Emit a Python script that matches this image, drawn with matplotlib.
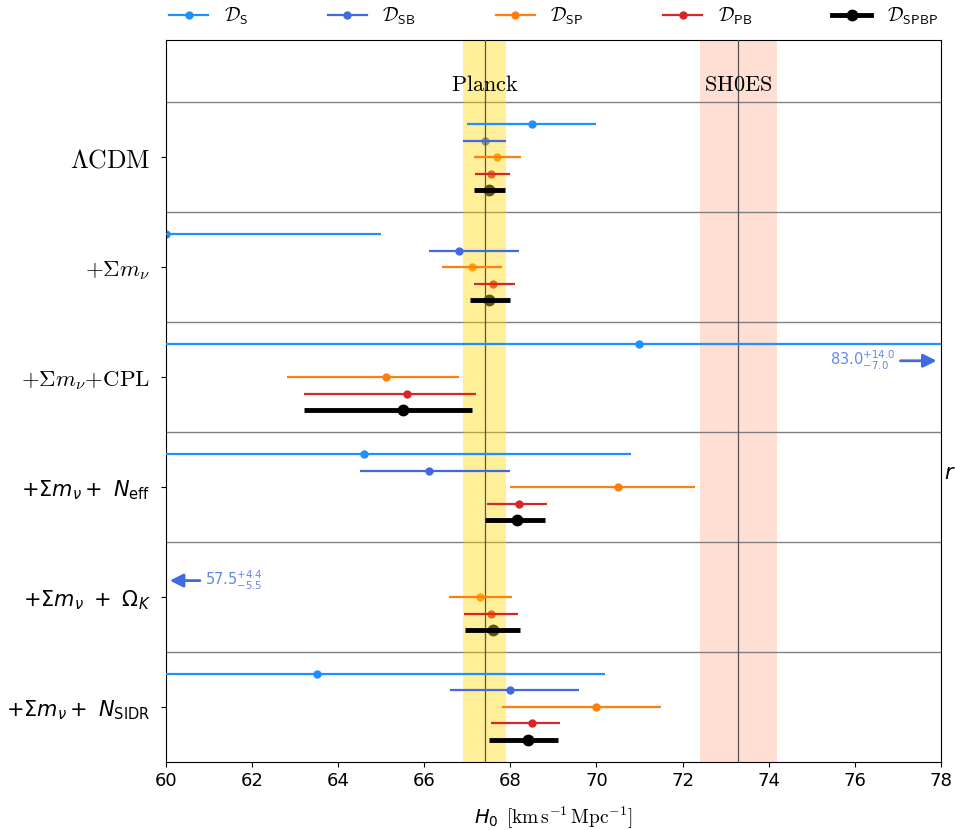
#%%
import matplotlib
matplotlib.use("Agg")
import matplotlib.pyplot as plt
from matplotlib.lines import Line2D
from matplotlib.offsetbox import TextArea, HPacker, AnnotationBbox

plt.rcParams["mathtext.fontset"] = "cm"
plt.rcParams["axes.unicode_minus"] = True

# %% data (H0 central value, lower err, upper err)
groups = [r"$\Lambda\mathrm{CDM}$", r"$+\Sigma m_\nu$", r"$+\Sigma m_\nu\mathrm{+CPL}$",
          r"$+\Sigma m_\nu+\ N_{\rm eff}$", r"$+\Sigma m_\nu\ +\ \Omega_K$",
          r"$+\Sigma m_\nu+\ N_{\rm SIDR}$"]
group_font = ["cm", "cm", "cm", "dejavusans", "dejavusans", "dejavusans"]
group_size = [18.5, 16.5, 16.5, 15, 15, 15]

names = [r"$\mathcal{D}_\mathsf{S}$", r"$\mathcal{D}_\mathsf{SB}$", r"$\mathcal{D}_\mathsf{SP}$",
         r"$\mathcal{D}_\mathsf{PB}$", r"$\mathcal{D}_\mathsf{SPBP}$"]

h0_S = [68.5, 60.0, 71.0, 64.6, None, 63.5]
lo_S = [1.5, 5.0, 12.0, 5.0, None, 5.0]
hi_S = [1.5, 5.0, 12.0, 6.2, None, 6.7]

h0_SB = [67.4, 66.8, 83.0, 66.1, 57.5, 68.0]
lo_SB = [0.5, 0.7, 7.0, 1.6, 5.5, 1.4]
hi_SB = [0.5, 1.4, 14.0, 1.9, 4.4, 1.6]

h0_SP = [67.7, 67.1, 65.1, 70.5, 67.3, 70.0]
lo_SP = [0.55, 0.7, 2.3, 2.5, 0.73, 2.2]
hi_SP = [0.55, 0.7, 1.7, 1.8, 0.73, 1.5]

h0_PB = [67.55, 67.6, 65.6, 68.2, 67.55, 68.5]
lo_PB = [0.37, 0.45, 2.4, 0.75, 0.62, 0.95]
hi_PB = [0.45, 0.5, 1.6, 0.65, 0.63, 0.65]

h0_SPBP = [67.5, 67.5, 65.5, 68.15, 67.6, 68.4]
lo_SPBP = [0.35, 0.43, 2.3, 0.75, 0.65, 0.9]
hi_SPBP = [0.38, 0.5, 1.6, 0.65, 0.62, 0.7]

planck = (67.4, 0.5)
shoes = (73.3, 0.9)

# %%
series = [(h0_S, lo_S, hi_S), (h0_SB, lo_SB, hi_SB), (h0_SP, lo_SP, hi_SP),
          (h0_PB, lo_PB, hi_PB), (h0_SPBP, lo_SPBP, hi_SPBP)]
colors = ["#1E90FF", "#4169E1", "#FF7F0E", "#D62728", "black"]
xmin, xmax = 60, 78

fig = plt.figure(figsize=(9.55, 8.3), dpi=100)
ax = fig.add_axes([0.174, 0.082, 0.811, 0.870])

handles = []
for k, (vals, lo, hi) in enumerate(series):
    thick = k == 4
    ms = 7.5 if thick else 5
    lw = 3.5 if thick else 1.6
    off = -0.3 + 0.15 * k
    xs, ys, el, eh = [], [], [], []
    for g, v in enumerate(vals):
        if v is None:
            continue
        y = g + off
        if v < xmin or v > xmax:
            # off-axis value: arrow at the edge plus label
            lab = r"$%.1f^{+%.1f}_{-%.1f}$" % (v, hi[g], lo[g])
            if v > xmax:
                ax.annotate("", xy=(xmax - 0.03, y), xytext=(xmax - 1.0, y),
                            arrowprops=dict(arrowstyle="-|>", color=colors[k], lw=2,
                                            mutation_scale=20), annotation_clip=False)
                ax.text(xmax - 1.05, y, lab, ha="right", va="center", color=colors[k],
                        alpha=0.8, fontsize=10.5, math_fontfamily="dejavusans")
            else:
                ax.annotate("", xy=(xmin + 0.02, y), xytext=(xmin + 0.85, y),
                            arrowprops=dict(arrowstyle="-|>", color=colors[k], lw=2,
                                            mutation_scale=20), annotation_clip=False)
                ax.text(xmin + 0.9, y, lab, ha="left", va="center", color=colors[k],
                        alpha=0.8, fontsize=10.5, math_fontfamily="dejavusans")
            continue
        xs.append(v)
        ys.append(y)
        el.append(lo[g])
        eh.append(hi[g])
    # bars above the Planck band, markers below it
    ax.errorbar(xs, ys, xerr=[el, eh], fmt="none", ecolor=colors[k],
                elinewidth=lw, capsize=0, zorder=3)
    ax.plot(xs, ys, "o", color=colors[k], ms=ms, zorder=2)
    handles.append(Line2D([], [], color=colors[k], lw=lw, marker="o", ms=ms,
                          label=names[k]))

# reference bands
ax.axvspan(planck[0] - planck[1], planck[0] + planck[1], color="#FFD700", alpha=0.4,
           lw=0, zorder=2.5)
ax.axvline(planck[0], color="#555555", lw=0.9, zorder=2.6)
ax.axvspan(shoes[0] - shoes[1], shoes[0] + shoes[1], color="#FFA07A", alpha=0.33,
           lw=0, zorder=1)
ax.axvline(shoes[0], color="#555555", lw=0.9, zorder=2.6)
ax.text(planck[0], -0.66, r"$\mathrm{Planck}$", ha="center", va="center", fontsize=16)
ax.text(shoes[0], -0.66, r"$\mathrm{SH0ES}$", ha="center", va="center", fontsize=16)

for s in range(len(groups)):
    ax.axhline(s - 0.5, color="#808080", lw=1, zorder=1)

ax.set_xlim(xmin, xmax)
ax.set_ylim(5.5, -1.07)
ax.set_xticks(range(60, 80, 2))
ax.tick_params(axis="x", labelsize=13)
ax.tick_params(axis="y", pad=8)
ax.set_yticks(range(len(groups)))
ax.set_yticklabels(groups)
for lab, mf, fs in zip(ax.get_yticklabels(), group_font, group_size):
    lab.set_math_fontfamily(mf)
    lab.set_fontsize(fs)

# x label: sans H0, serif units
parts = [TextArea(r"$H_0$", textprops=dict(fontsize=14, math_fontfamily="dejavusans")),
         TextArea(r"$[\mathrm{km\,s^{-1}\,Mpc^{-1}}]$",
                  textprops=dict(fontsize=14, math_fontfamily="cm"))]
box = HPacker(children=parts, align="baseline", pad=0, sep=5)
ab = AnnotationBbox(box, (0.5, 0), xycoords="axes fraction", xybox=(0, -40),
                    boxcoords="offset points", box_alignment=(0.5, 0.5),
                    frameon=False, annotation_clip=False)
ax.add_artist(ab)

ax.legend(handles=handles, loc="lower center", bbox_to_anchor=(0.5, 1.007), ncol=5,
          frameon=False, fontsize=14, handlelength=2.0, handletextpad=0.8,
          columnspacing=4.1, borderaxespad=0.0)

fig.text(0.988, 0.43, r"$r$", fontsize=15, math_fontfamily="dejavusans",
         ha="left", va="center")

fig.savefig("out.png", dpi=100)
